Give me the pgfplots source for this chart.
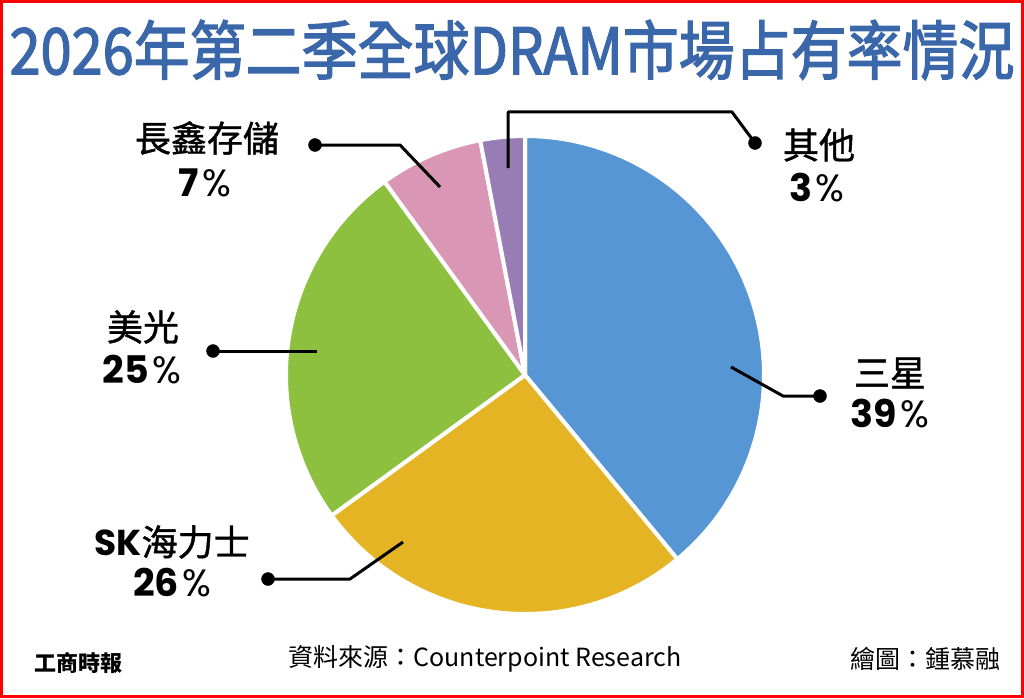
\documentclass[border=0pt]{standalone}
\usepackage{pgfplots}
\pgfplotsset{compat=1.18}
\usepackage{fontspec}
\setmainfont{Noto Sans CJK TC}
\newfontfamily\lab{Noto Sans CJK TC}[FakeBold=1.2]
\newfontfamily\tit{Noto Sans CJK TC}[FakeBold=2.2]
\newfontfamily\geo{Poppins}
\definecolor{cSam}{RGB}{86,150,212}
\definecolor{cSK}{RGB}{228,180,36}
\definecolor{cMic}{RGB}{140,192,62}
\definecolor{cCX}{RGB}{217,150,181}
\definecolor{cOth}{RGB}{152,124,180}
\definecolor{cTitle}{RGB}{58,102,170}
\newcommand{\pct}[1]{{\geo\bfseries #1}\hspace{3pt}{\geo\%}}
\begin{document}
\begin{tikzpicture}
\begin{axis}[
  scale only axis, width=1024pt, height=698pt,
  xmin=0, xmax=1024, ymin=0, ymax=698, y dir=reverse,
  hide axis, clip=false,
]
% pie slices: 39%, 26%, 25%, 7%, 3% (clockwise from top)
\addplot[fill=cSam, draw=white, line width=4pt, line join=round, domain=0:140.4, samples=90, variable=\t] ({525+239*sin(\t)},{375-239*cos(\t)}) -- (axis cs:525,375) -- cycle;
\addplot[fill=cSK, draw=white, line width=4pt, line join=round, domain=140.4:234, samples=60, variable=\t] ({525+239*sin(\t)},{375-239*cos(\t)}) -- (axis cs:525,375) -- cycle;
\addplot[fill=cMic, draw=white, line width=4pt, line join=round, domain=234:324, samples=60, variable=\t] ({525+239*sin(\t)},{375-239*cos(\t)}) -- (axis cs:525,375) -- cycle;
\addplot[fill=cCX, draw=white, line width=4pt, line join=round, domain=324:349.2, samples=20, variable=\t] ({525+239*sin(\t)},{375-239*cos(\t)}) -- (axis cs:525,375) -- cycle;
\addplot[fill=cOth, draw=white, line width=4pt, line join=round, domain=349.2:360, samples=10, variable=\t] ({525+239*sin(\t)},{375-239*cos(\t)}) -- (axis cs:525,375) -- cycle;

% leader lines
\addplot[black, line width=3pt, line join=round] coordinates {(731,367) (783,396) (820,396)};
\addplot[black, line width=3pt, line join=round] coordinates {(440,187) (400,145) (315,145)};
\addplot[black, line width=3pt, line join=round] coordinates {(317,351) (213,351)};
\addplot[black, line width=3pt, line join=round] coordinates {(403,542) (350,579) (268,579)};
\addplot[black, line width=3pt, line join=round] coordinates {(508,168) (508,112) (732,112) (755,143)};
\addplot[only marks, mark=*, mark size=6.5pt, black] coordinates {(820,396) (315,145) (213,351) (268,579) (755,143)};

% labels
\node[font=\lab\fontsize{36}{36}\selectfont] at (axis cs:890,373) {三星};
\node[font=\fontsize{38}{38}\selectfont] at (axis cs:890,414) {\pct{39}};
\node[font=\lab\fontsize{36}{36}\selectfont] at (axis cs:207,138) {長鑫存儲};
\node[font=\fontsize{38}{38}\selectfont] at (axis cs:205,183) {\pct{7}};
\node[font=\lab\fontsize{36}{36}\selectfont] at (axis cs:143,327) {美光};
\node[font=\fontsize{38}{38}\selectfont] at (axis cs:142,370) {\pct{25}};
\node[font=\lab\fontsize{36}{36}\selectfont] at (axis cs:172,542) {{\geo\bfseries SK}海力士};
\node[font=\fontsize{38}{38}\selectfont] at (axis cs:172,583) {\pct{26}};
\node[font=\lab\fontsize{36}{36}\selectfont] at (axis cs:819,145) {其他};
\node[font=\fontsize{38}{38}\selectfont] at (axis cs:817,188) {\pct{3}};

% title
\node[text=cTitle, font=\tit\fontsize{64}{64}\selectfont, inner sep=0pt] at (axis cs:512,50) {\resizebox{1005pt}{\height}{2026年第二季全球DRAM市場占有率情況}};

% footer
\node[font=\bfseries\fontsize{22}{22}\selectfont, inner sep=0pt] at (axis cs:78,663) {工商時報};
\node[font=\fontsize{25}{25}\selectfont, inner sep=0pt] at (axis cs:485,659) {資料來源：Counterpoint Research};
\node[font=\fontsize{25}{25}\selectfont, inner sep=0pt] at (axis cs:925,659) {繪圖：鍾慕融};

% border
\draw[red, line width=3pt] (axis cs:1.5,1.5) rectangle (axis cs:1022.5,696.5);
\end{axis}
\end{tikzpicture}
\end{document}
